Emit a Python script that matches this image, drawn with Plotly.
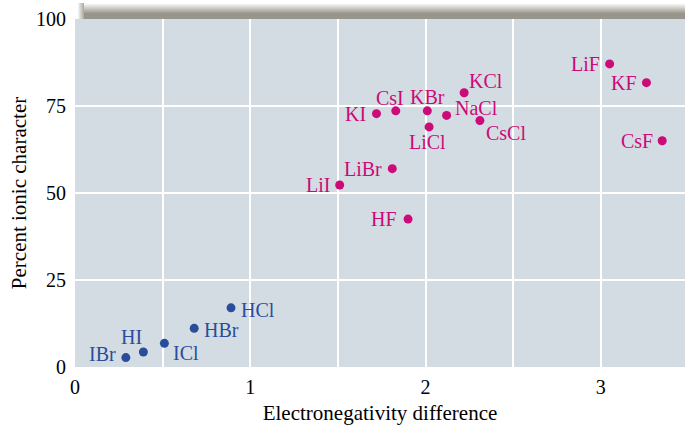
import plotly.graph_objects as go

# Polar covalent molecules (blue) and ionic compounds (magenta)
covalent_names = ["IBr", "HI", "ICl", "HBr", "HCl"]
covalent_en_diff = [0.29, 0.39, 0.51, 0.68, 0.89]
covalent_ionic_pct = [2.7, 4.3, 6.8, 11.1, 17.0]

ionic_names = ["LiI", "LiBr", "KI", "CsI", "KBr", "LiCl", "NaCl", "KCl", "CsCl",
               "HF", "LiF", "KF", "CsF"]
ionic_en_diff = [1.51, 1.81, 1.72, 1.83, 2.01, 2.02, 2.12, 2.22, 2.31,
                 1.90, 3.05, 3.26, 3.35]
ionic_ionic_pct = [52.3, 57.0, 72.8, 73.6, 73.6, 69.0, 72.3, 78.8, 70.8,
                   42.5, 87.1, 81.7, 65.0]

x_tick_vals = [0, 0.5, 1, 1.5, 2, 2.5, 3]
x_tick_text = ["0", "", "1", "", "2", "", "3"]
y_tick_vals = [0, 25, 50, 75, 100]
y_tick_text = ["0", "25", "50", "75", "100"]

BLUE = "#2a4d9b"
MAGENTA = "#cc0a78"
PLOT_BG = "#d4dce3"
FONT = "Liberation Serif"

# label placement: (xanchor, xshift, yshift) in pixels
label_style = {
    "IBr": ("right", -8, 4), "HI": ("center", -12, 15), "ICl": ("left", 7, -10),
    "HBr": ("left", 8, -2), "HCl": ("left", 8, -2),
    "LiI": ("right", -8, 0), "LiBr": ("right", -8, 0), "KI": ("right", -8, 0),
    "CsI": ("center", -6, 13), "KBr": ("center", 0, 14), "LiCl": ("center", -2, -15),
    "NaCl": ("left", 6, 7), "KCl": ("left", 3, 12), "CsCl": ("left", 4, -12),
    "HF": ("right", -9, 0), "LiF": ("right", -8, 0), "KF": ("right", -7, 0),
    "CsF": ("right", -7, 0),
}

fig = go.Figure()
fig.add_trace(go.Scatter(x=covalent_en_diff, y=covalent_ionic_pct, mode="markers",
                         marker=dict(size=9, color=BLUE), hoverinfo="skip"))
fig.add_trace(go.Scatter(x=ionic_en_diff, y=ionic_ionic_pct, mode="markers",
                         marker=dict(size=9, color=MAGENTA), hoverinfo="skip"))

annotations = []
for names, xs, ys, col in [(covalent_names, covalent_en_diff, covalent_ionic_pct, BLUE),
                           (ionic_names, ionic_en_diff, ionic_ionic_pct, MAGENTA)]:
    for n, xv, yv in zip(names, xs, ys):
        anchor, dx, dy = label_style[n]
        annotations.append(dict(x=xv, y=yv, text=n, showarrow=False,
                                xanchor=anchor, yanchor="middle",
                                xshift=dx, yshift=dy,
                                font=dict(family=FONT, size=20, color=col)))

# shaded band above the plot area: gradient from white down to grey
plot_h = 348
plot_w = 610
shapes = []
band_top, band_bottom = 3, 19  # pixels from top of the page
n_steps = band_bottom - band_top
for i in range(n_steps):
    t = min(1.0, i / 10.0)
    r = int(252 - (252 - 152) * t)
    g = int(252 - (252 - 150) * t)
    b = int(248 - (248 - 140) * t)
    y_top_px = band_top + i
    shapes.append(dict(type="rect", xref="paper", yref="paper",
                       x0=(84 - 75) / plot_w, x1=1.0,
                       y0=1 + (19 - (y_top_px + 1)) / plot_h,
                       y1=1 + (19 - y_top_px) / plot_h,
                       line=dict(width=0), fillcolor=f"rgb({r},{g},{b})",
                       layer="below"))
# soft left end of the band
for j in range(6):
    alpha = (j + 1) / 7 * 0.9
    shapes.append(dict(type="rect", xref="paper", yref="paper",
                       x0=(78 + j - 75) / plot_w, x1=(79 + j - 75) / plot_w,
                       y0=1, y1=1 + (19 - band_top) / plot_h,
                       line=dict(width=0), fillcolor=f"rgba(150,148,138,{alpha:.2f})",
                       layer="below"))

fig.update_layout(
    width=685, height=425,
    margin=dict(l=75, r=0, t=19, b=58),
    paper_bgcolor="white", plot_bgcolor=PLOT_BG,
    showlegend=False,
    annotations=annotations, shapes=shapes,
    font=dict(family=FONT, color="black"),
)
fig.update_xaxes(range=[0, 3.48], tickvals=x_tick_vals, ticktext=x_tick_text,
                 showgrid=True, gridcolor="white", gridwidth=1.5, zeroline=False,
                 showline=False, ticks="", ticklabelstandoff=6,
                 tickfont=dict(family=FONT, size=20, color="black"),
                 title=dict(text="Electronegativity difference", standoff=11,
                            font=dict(family=FONT, size=21, color="black")))
fig.update_yaxes(range=[0, 100], tickvals=y_tick_vals, ticktext=y_tick_text,
                 showgrid=True, gridcolor="white", gridwidth=1.5, zeroline=False,
                 showline=False, ticks="", ticklabelstandoff=8,
                 tickfont=dict(family=FONT, size=20, color="black"),
                 title=dict(text="Percent ionic character", standoff=3,
                            font=dict(family=FONT, size=21, color="black")))

fig.write_html("out.html")
